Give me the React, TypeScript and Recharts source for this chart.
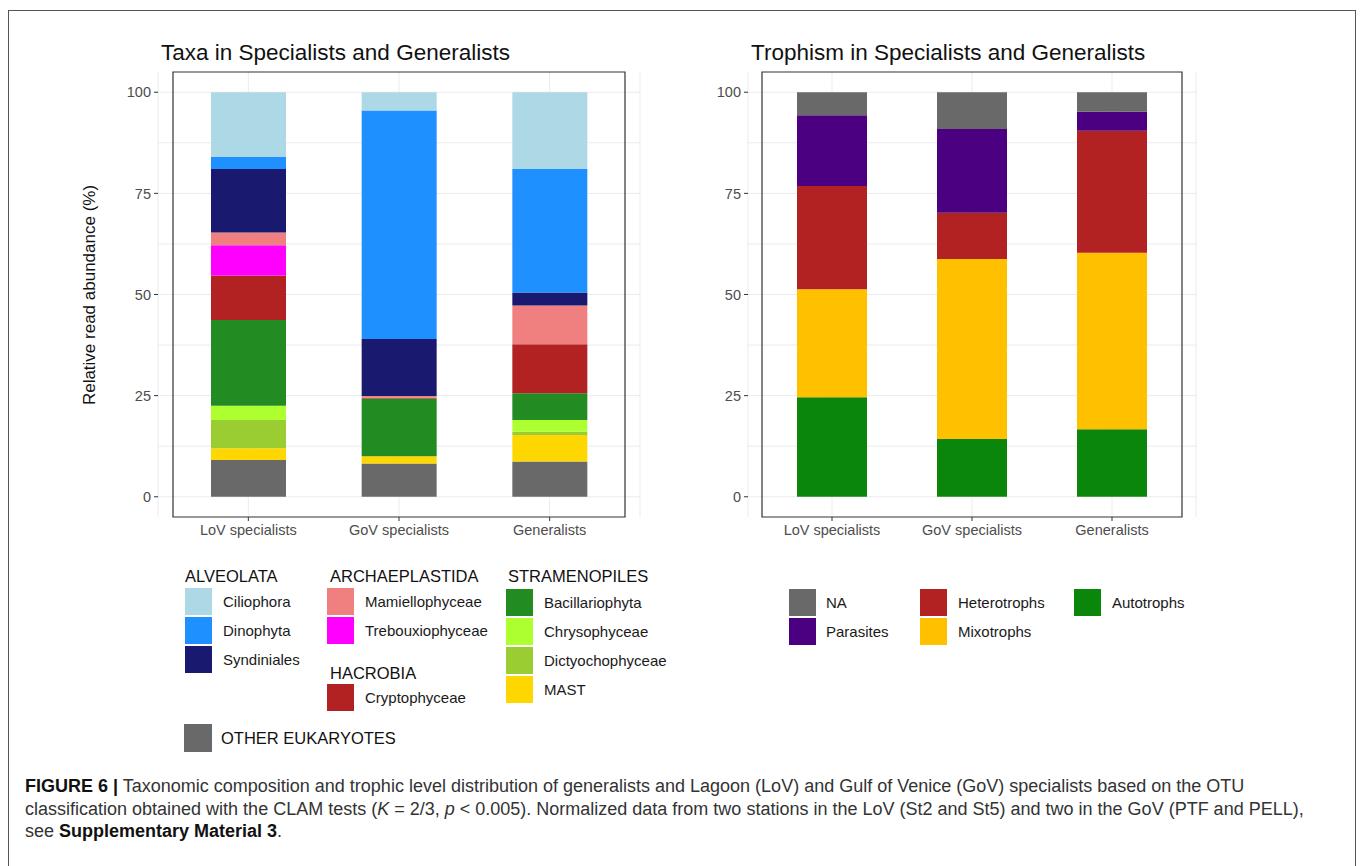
import React from 'react';
import { BarChart, Bar, XAxis, YAxis, CartesianGrid, ReferenceArea } from 'recharts';

const GROUPS = ['LoV specialists', 'GoV specialists', 'Generalists'];
const Y_TICKS = [0, 25, 50, 75, 100];
const GRID_VALUES = [0, 12.5, 25, 37.5, 50, 62.5, 75, 87.5, 100];

// relative read abundance (%) per taxon, one value per group
const OTHER_EUK = [9.1, 8.2, 8.7];
const MAST = [2.9, 1.8, 6.6];
const DICTYOCHO = [7.0, 0, 0.8];
const CHRYSO = [3.5, 0, 2.9];
const BACILLARIO = [21.2, 14.3, 6.6];
const CRYPTO = [11.0, 0.2, 12.1];
const TREBOUXIO = [7.5, 0, 0];
const MAMIELLO = [3.1, 0.4, 9.6];
const SYNDINIALES = [15.7, 14.1, 3.2];
const DINOPHYTA = [3.0, 56.5, 30.5];
const CILIOPHORA = [16.0, 4.5, 19.0];

// relative read abundance (%) per trophic mode
const AUTOTROPHS = [24.6, 14.3, 16.7];
const MIXOTROPHS = [26.7, 44.5, 43.6];
const HETEROTROPHS = [25.5, 11.4, 30.2];
const PARASITES = [17.5, 20.7, 4.7];
const NA_TROPHIC = [5.7, 9.1, 4.8];

// stacking order: first entry sits at the bottom
const TAXA = [
  { key: 'OTHER EUKARYOTES', values: OTHER_EUK, color: '#696969' },
  { key: 'MAST', values: MAST, color: '#FFD700' },
  { key: 'Dictyochophyceae', values: DICTYOCHO, color: '#9ACD32' },
  { key: 'Chrysophyceae', values: CHRYSO, color: '#ADFF2F' },
  { key: 'Bacillariophyta', values: BACILLARIO, color: '#228B22' },
  { key: 'Cryptophyceae', values: CRYPTO, color: '#B22222' },
  { key: 'Trebouxiophyceae', values: TREBOUXIO, color: '#FF00FF' },
  { key: 'Mamiellophyceae', values: MAMIELLO, color: '#F08080' },
  { key: 'Syndiniales', values: SYNDINIALES, color: '#191970' },
  { key: 'Dinophyta', values: DINOPHYTA, color: '#1E90FF' },
  { key: 'Ciliophora', values: CILIOPHORA, color: '#ADD8E6' },
];

const TROPHISM = [
  { key: 'Autotrophs', values: AUTOTROPHS, color: '#0A870A' },
  { key: 'Mixotrophs', values: MIXOTROPHS, color: '#FFC000' },
  { key: 'Heterotrophs', values: HETEROTROPHS, color: '#B22222' },
  { key: 'Parasites', values: PARASITES, color: '#4B0082' },
  { key: 'NA', values: NA_TROPHIC, color: '#696969' },
];

type Series = { key: string; values: number[]; color: string };

const toRows = (series: Series[]) =>
  GROUPS.map((g, i) => {
    const row: Record<string, string | number> = { group: g };
    series.forEach((s) => { row[s.key] = s.values[i]; });
    return row;
  });

const colorOf = (series: Series[], key: string) => series.find((s) => s.key === key)!.color;

const FONT = '"Liberation Sans", Arial, Helvetica, sans-serif';
const TICK = { fill: '#4d4d4d', fontSize: 14.5, fontFamily: FONT };

function StackChart({ series, left, width, barSize, pad }: {
  series: Series[]; left: number; width: number; barSize: number; pad: number;
}) {
  return (
    <div style={{ position: 'absolute', left, top: 40 }}>
      <BarChart width={width} height={520} data={toRows(series)} barSize={barSize}
        margin={{ top: 32, right: 20, bottom: 0, left: 0 }}>
        <CartesianGrid stroke="#ebebeb" horizontalValues={GRID_VALUES} />
        <XAxis dataKey="group" height={43} padding={{ left: pad, right: pad }}
          axisLine={false} tickLine={{ stroke: '#333' }} tickSize={4} tickMargin={4} tick={TICK} />
        <YAxis type="number" domain={[-5, 105]} ticks={Y_TICKS} width={58}
          axisLine={false} tickLine={{ stroke: '#333' }} tickSize={4} tickMargin={3} tick={TICK} />
        {series.map((s) => (
          <Bar key={s.key} dataKey={s.key} stackId="a" fill={s.color} isAnimationActive={false} />
        ))}
        <ReferenceArea y1={-5} y2={105} fill="none" stroke="#333" strokeWidth={1.2} ifOverflow="visible" />
      </BarChart>
    </div>
  );
}

const Swatch = ({ x, y, color, label, gap = 11, size = 27 }: {
  x: number; y: number; color: string; label: string; gap?: number; size?: number;
}) => (
  <div style={{ position: 'absolute', left: x, top: y, height: size, display: 'flex', alignItems: 'center', whiteSpace: 'nowrap' }}>
    <div style={{ width: size, height: size, background: color, marginRight: gap }} />
    <span style={{ fontSize: 15, color: '#1a1a1a' }}>{label}</span>
  </div>
);

const Header = ({ x, y, text }: { x: number; y: number; text: string }) => (
  <div style={{ position: 'absolute', left: x, top: y, fontSize: 16.5, lineHeight: '16.5px', color: '#111', whiteSpace: 'nowrap' }}>{text}</div>
);

export default function App() {
  const t = (k: string) => colorOf(TAXA, k);
  const r = (k: string) => colorOf(TROPHISM, k);
  return (
    <div style={{ position: 'absolute', left: 0, top: 0, width: 1360, height: 866, background: '#fff', overflow: 'hidden', fontFamily: FONT }}>
      <div style={{ position: 'absolute', left: 8, top: 10, width: 1346, height: 900, border: '1.5px solid #555' }} />

      <div style={{ position: 'absolute', left: 161, top: 40, fontSize: 22.5, color: '#111', whiteSpace: 'nowrap' }}>Taxa in Specialists and Generalists</div>
      <div style={{ position: 'absolute', left: 751, top: 40, fontSize: 22.5, color: '#111', whiteSpace: 'nowrap' }}>Trophism in Specialists and Generalists</div>

      <div style={{ position: 'absolute', left: 90, top: 295, transform: 'translate(-50%, -50%) rotate(-90deg)', fontSize: 17, color: '#111', whiteSpace: 'nowrap' }}>Relative read abundance (%)</div>

      <StackChart series={TAXA} left={100} width={560} barSize={75} pad={15} />
      <StackChart series={TROPHISM} left={690} width={526} barSize={70} pad={14} />

      {/* taxa legend */}
      <Header x={185} y={568} text="ALVEOLATA" />
      <Swatch x={185} y={588} color={t('Ciliophora')} label="Ciliophora" />
      <Swatch x={185} y={617} color={t('Dinophyta')} label="Dinophyta" />
      <Swatch x={185} y={646} color={t('Syndiniales')} label="Syndiniales" />

      <Header x={330} y={568} text="ARCHAEPLASTIDA" />
      <Swatch x={327} y={588} color={t('Mamiellophyceae')} label="Mamiellophyceae" />
      <Swatch x={327} y={617} color={t('Trebouxiophyceae')} label="Trebouxiophyceae" />
      <Header x={330} y={665} text="HACROBIA" />
      <Swatch x={327} y={684} color={t('Cryptophyceae')} label="Cryptophyceae" />

      <Header x={508} y={568} text="STRAMENOPILES" />
      <Swatch x={506} y={589} color={t('Bacillariophyta')} label="Bacillariophyta" />
      <Swatch x={506} y={618} color={t('Chrysophyceae')} label="Chrysophyceae" />
      <Swatch x={506} y={647} color={t('Dictyochophyceae')} label="Dictyochophyceae" />
      <Swatch x={506} y={676} color={t('MAST')} label="MAST" />

      <div style={{ position: 'absolute', left: 184, top: 724, height: 28, display: 'flex', alignItems: 'center', whiteSpace: 'nowrap' }}>
        <div style={{ width: 28, height: 28, background: t('OTHER EUKARYOTES'), marginRight: 9 }} />
        <span style={{ fontSize: 16.5, color: '#111' }}>OTHER EUKARYOTES</span>
      </div>

      {/* trophism legend */}
      <Swatch x={789} y={589} color={r('NA')} label="NA" gap={10} />
      <Swatch x={789} y={618} color={r('Parasites')} label="Parasites" gap={10} />
      <Swatch x={920} y={589} color={r('Heterotrophs')} label="Heterotrophs" gap={11} />
      <Swatch x={920} y={618} color={r('Mixotrophs')} label="Mixotrophs" gap={11} />
      <Swatch x={1074} y={589} color={r('Autotrophs')} label="Autotrophs" gap={11} />

      <div style={{ position: 'absolute', left: 25, top: 775, fontSize: 18, lineHeight: '22.5px', color: '#333', whiteSpace: 'nowrap' }}>
        <b style={{ color: '#111' }}>FIGURE 6 |</b> Taxonomic composition and trophic level distribution of generalists and Lagoon (LoV) and Gulf of Venice (GoV) specialists based on the OTU<br />
        classification obtained with the CLAM tests (<i>K</i> = 2/3, <i>p</i> &lt; 0.005). Normalized data from two stations in the LoV (St2 and St5) and two in the GoV (PTF and PELL),<br />
        see <b style={{ color: '#111' }}>Supplementary Material 3</b>.
      </div>
    </div>
  );
}
